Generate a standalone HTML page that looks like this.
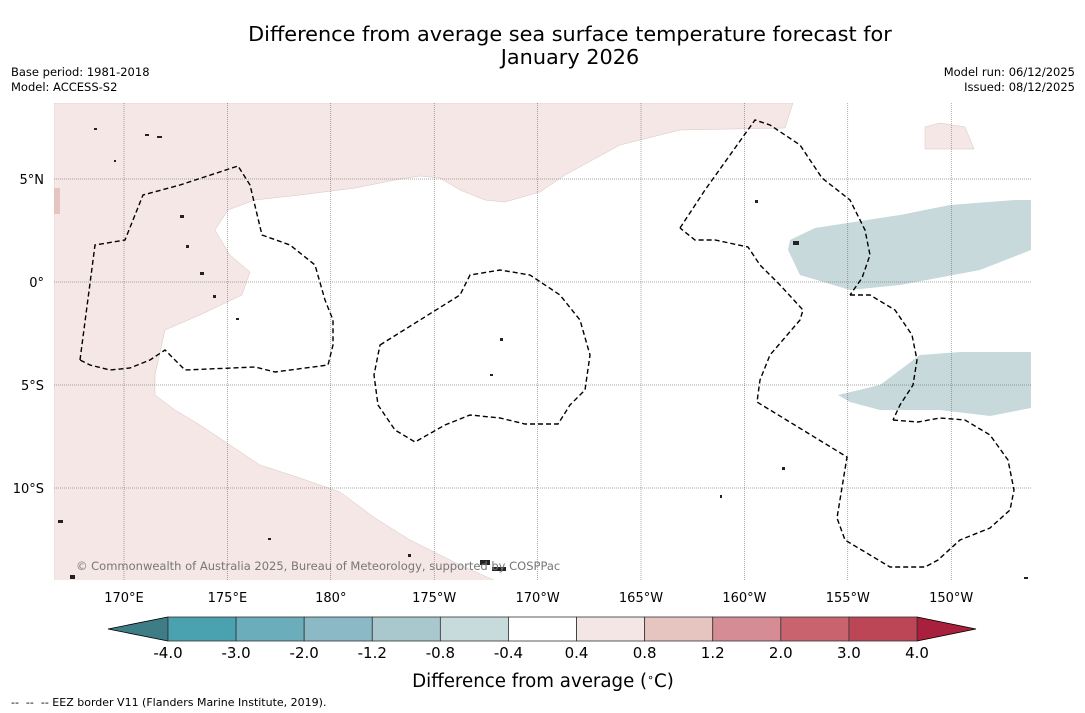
<!DOCTYPE html>
<html><head><meta charset="utf-8">
<style>
body{margin:0;background:#fff;width:1085px;height:713px;overflow:hidden;font-family:"Liberation Sans","DejaVu Sans",sans-serif;}
svg{display:block}
</style></head><body>
<svg id="chart" width="1085" height="713" viewBox="0 0 1085 713" xmlns="http://www.w3.org/2000/svg" font-family="DejaVu Sans, Liberation Sans, sans-serif">
<text x="570" y="41" font-size="20.8" text-anchor="middle" fill="#000">Difference from average sea surface temperature forecast for</text>
<text x="570" y="64" font-size="20.8" text-anchor="middle" fill="#000">January 2026</text>
<text x="11" y="76" font-size="11.5">Base period: 1981-2018</text>
<text x="11" y="91" font-size="11.5">Model: ACCESS-S2</text>
<text x="1075" y="76" font-size="11.5" text-anchor="end">Model run: 06/12/2025</text>
<text x="1075" y="91" font-size="11.5" text-anchor="end">Issued: 08/12/2025</text>

<g>
<clipPath id="mc"><rect x="54" y="103" width="977" height="477"/></clipPath>
<g clip-path="url(#mc)">
<rect x="54" y="103" width="977" height="477" fill="#fff"/>
<path fill="#f4e7e5" stroke="#d9c4c2" stroke-width="0.5" d="M54,103 L793,103 L785,128 L680,130 L620,145 L565,175 L540,192 L505,202 L485,200 L460,190 L440,178 L420,176 L395,180 L355,188 L300,195 L255,200 L228,210 L215,230 L230,255 L250,272 L242,295 L200,315 L165,330 L155,375 L155,395 L175,410 L200,425 L230,445 L260,465 L300,478 L340,492 L375,518 L410,540 L460,565 L505,585 L54,585 Z"/>
<path fill="#f4e7e5" stroke="#d9c4c2" stroke-width="0.5" d="M925,127 L940,123 L965,127 L974,149 L925,149 Z"/>
<path fill="#c7d9db" d="M790,240 L815,228 L900,215 L950,205 L1015,200 L1031,200 L1031,250 L980,270 L900,285 L850,290 L800,275 L788,250 Z"/>
<path fill="#c7d9db" d="M838,395 L880,385 L900,370 L920,355 L960,352 L1031,352 L1031,408 L990,416 L940,410 L880,410 L850,402 Z"/>
<rect x="54" y="188" width="6" height="26" fill="#e6c4c0"/>
<g id="grid"></g>
<g fill="#222">
<rect x="145" y="134" width="4" height="2"/><rect x="157" y="136" width="5" height="2"/><rect x="180" y="215" width="4" height="3"/><rect x="186" y="245" width="3" height="3"/><rect x="200" y="272" width="4" height="3"/><rect x="213" y="295" width="3" height="3"/><rect x="236" y="318" width="3" height="2"/><rect x="500" y="338" width="3" height="3"/><rect x="490" y="374" width="3" height="2"/><rect x="755" y="200" width="3" height="3"/><rect x="793" y="241" width="6" height="4"/><rect x="782" y="467" width="3" height="3"/><rect x="720" y="495" width="2" height="3"/><rect x="58" y="520" width="5" height="3"/><rect x="70" y="575" width="5" height="4"/><rect x="268" y="538" width="3" height="2"/><rect x="408" y="554" width="3" height="3"/><rect x="480" y="560" width="10" height="5"/><rect x="492" y="567" width="14" height="4"/><rect x="1024" y="577" width="4" height="2"/><rect x="94" y="128" width="3" height="2"/><rect x="114" y="160" width="2" height="2"/>
</g>
<g fill="none" stroke="#000" stroke-width="1.4" stroke-dasharray="5,3">
<path d="M80,360 L95,245 L125,240 L143,195 L180,185 L238,166 L250,185 L262,235 L290,245 L315,265 L325,300 L333,320 L333,345 L328,365 L275,372 L255,367 L185,370 L165,350 L150,360 L130,368 L110,370 L90,365 Z"/>
<path d="M380,345 L420,320 L460,295 L470,275 L500,270 L530,275 L560,295 L580,320 L590,355 L585,390 L570,405 L558,424 L525,424 L500,418 L470,415 L445,425 L415,442 L395,430 L378,405 L374,375 Z"/>
<path d="M680,228 L705,190 L730,155 L755,120 L770,125 L800,145 L822,178 L850,200 L865,230 L870,255 L862,278 L850,295 M850,295 L870,295 L895,310 L912,335 L917,360 L913,385 L900,405 L893,420 M893,420 L918,422 L940,418 L965,420 L990,435 L1008,460 L1014,490 L1010,510 L990,528 L960,540 L938,560 L925,567 L890,567 L870,555 L845,540 L837,518 L847,457 L757,402 L760,380 L770,355 L800,320 L803,310 L780,285 L760,265 L748,247 L715,240 L695,240 L680,228"/>
</g>
<text x="76" y="570" font-size="11.5" fill="#777">© Commonwealth of Australia 2025, Bureau of Meteorology, supported by COSPPac</text>
</g>
</g>
<g id="axes"></g>
<g id="colorbar"></g>
<text x="543" y="687" font-size="18.2" text-anchor="middle">Difference from average (<tspan font-size="11" dy="-6">∘</tspan><tspan dy="6">C)</tspan></text>
<text x="11" y="706" font-size="11" xml:space="preserve">--  --  -- EEZ border V11 (Flanders Marine Institute, 2019).</text>
</svg>
<script>
const lonTicks=[170,175,180,185,190,195,200,205,210];
const lonLabels=["170°E","175°E","180°","175°W","170°W","165°W","160°W","155°W","150°W"];
const latTicks=[5,0,-5,-10];
const latLabels=["5°N","0°","5°S","10°S"];
const cbLevels=[-4.0,-3.0,-2.0,-1.2,-0.8,-0.4,0.4,0.8,1.2,2.0,3.0,4.0];
const cbLabels=["-4.0","-3.0","-2.0","-1.2","-0.8","-0.4","0.4","0.8","1.2","2.0","3.0","4.0"];
const cbColors=["#4aa2b1","#6badba","#8bb9c5","#a9c8cd","#c7dadc","#ffffff","#f4e6e4","#e6c4bf","#d58c95","#c9646f","#bd4656"];
const cbLow="#3e7d86", cbHigh="#a8203b";
const NS="http://www.w3.org/2000/svg";
function mk(t,a,p){const e=document.createElementNS(NS,t);for(const k in a)e.setAttribute(k,a[k]);p.appendChild(e);return e;}
const xLon=l=>124+(l-170)*20.68;
const yLat=l=>282-l*20.6;
const grid=document.getElementById('grid'),axes=document.getElementById('axes');
lonTicks.forEach((l,i)=>{
 const ln=mk('line',{x1:xLon(l),x2:xLon(l),y1:103,y2:580,stroke:'#555','stroke-width':0.5,'stroke-dasharray':'1,1'},grid);
 
 
 const t=mk('text',{x:xLon(l),y:602,'font-size':13,'text-anchor':'middle'},axes);
 t.textContent=lonLabels[i];
 
 
});
latTicks.forEach((l,i)=>{
 const ln=mk('line',{x1:54,x2:1031,y1:yLat(l),y2:yLat(l),stroke:'#555','stroke-width':0.5,'stroke-dasharray':'1,1'},grid);
 
 
 const t=mk('text',{x:44,y:yLat(l)+5,'font-size':13,'text-anchor':'end'},axes);
 t.textContent=latLabels[i];
 
 
});
const cb=document.getElementById('colorbar');
const cx0=168,cx1=917,cy=617,ch=24;
const cbX=i=>cx0+(cx1-cx0)*i/(cbLevels.length-1);
const lt=mk('polygon',{points:`${cx0},${cy} ${cx0},${cy+ch} 108,${cy+ch/2}`,fill:cbLow,stroke:'#000','stroke-width':0.8},cb);


const rt=mk('polygon',{points:`${cx1},${cy} ${cx1},${cy+ch} 976,${cy+ch/2}`,fill:cbHigh,stroke:'#000','stroke-width':0.8},cb);


cbColors.forEach((c,i)=>{
 const r=mk('rect',{x:cbX(i),y:cy,width:cbX(i+1)-cbX(i),height:ch,fill:c,stroke:'#333','stroke-width':0.8},cb);
 
 
});
cbLabels.forEach((s,i)=>{
 const t=mk('text',{x:cbX(i),y:658,'font-size':15,'text-anchor':'middle'},cb);
 t.textContent=s;
 
 
});
</script>
</body></html>
